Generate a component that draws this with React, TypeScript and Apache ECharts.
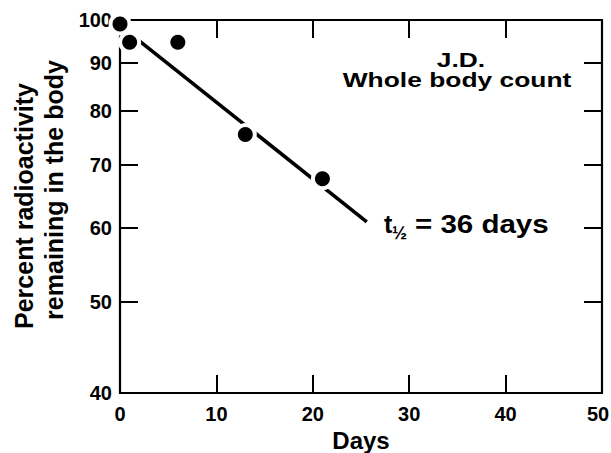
import React, { useEffect, useRef } from "react";
import * as echarts from "echarts";

// ---- data ----
const days = [0, 1, 6, 13, 21];
const percentRemaining = [99, 94.7, 94.7, 75.5, 67.7];
const fitDays = [2, 25.6];
const fitPercent = [95, 60.9];
const xMin = 0;
const xMax = 50;
const xInterval = 10;
const yTicks = [40, 50, 60, 70, 80, 90, 100];
const yMin = 40;
const yMax = 100;
const xName = "Days";
const yName1 = "Percent radioactivity";
const yName2 = "remaining in the body";
const note1 = "J.D.";
const note2 = "Whole body count";
const halfLifeT = "t";
const halfLifeSub = "½";
const halfLifeRest = "= 36 days";

const FONT = '"Liberation Sans", Arial, Helvetica, sans-serif';
const INK = "#000000";
const GRID = { left: 120, top: 20, width: 482, height: 373 };

const lg = (v: number) => Math.log10(v);

export default function App() {
  const ref = useRef<HTMLDivElement>(null);
  useEffect(() => {
    if (!ref.current) return;
    const chart = echarts.init(ref.current, null, { renderer: "svg" });
    const pts = days.map((d, i) => [d, lg(percentRemaining[i])]);
    const fit = fitDays.map((d, i) => [d, lg(fitPercent[i])]);
    const yTickVals = yTicks.map(lg);
    const axisLine = () => ({ show: true, onZero: false, lineStyle: { color: INK, width: 2.2 } });
    const tick = () => ({ show: true, inside: true, length: 18, lineStyle: { color: INK, width: 2 } });
    const labelStyle = () => ({ color: INK, fontFamily: FONT, fontWeight: "bold" as const, fontSize: 20 });
    const textStyle = (size: number) => ({
      fill: INK,
      fontFamily: FONT,
      fontWeight: "bold",
      fontSize: size,
    });
    chart.setOption({
      animation: false,
      grid: {
        ...GRID,
        outerBoundsMode: "none",
        show: true,
        borderColor: INK,
        borderWidth: 2,
      },
      xAxis: [
        {
          type: "value",
          position: "bottom",
          min: xMin,
          max: xMax,
          interval: xInterval,
          axisLine: axisLine(),
          axisTick: tick(),
          splitLine: { show: false },
          axisLabel: {
            ...labelStyle(),
            margin: 11,
            formatter: (v: number) => (v === xMax ? `{last|${v}}` : `${v}`),
            rich: {
              last: { ...labelStyle(), padding: [0, 8, 0, 0] },
            },
          },
          name: xName,
          nameLocation: "middle",
          nameGap: 25,
          nameTextStyle: { color: INK, fontFamily: FONT, fontWeight: "bold", fontSize: 24 },
        },
        {
          type: "value",
          position: "top",
          min: xMin,
          max: xMax,
          interval: xInterval,
          axisLine: axisLine(),
          axisTick: tick(),
          splitLine: { show: false },
          axisLabel: { show: false },
        },
      ],
      yAxis: [
        {
          type: "value",
          position: "left",
          min: lg(yMin),
          max: lg(yMax),
          axisLine: axisLine(),
          axisTick: { ...tick(), customValues: yTickVals },
          splitLine: { show: false },
          axisLabel: {
            ...labelStyle(),
            margin: 8,
            customValues: yTickVals,
            formatter: (v: number) => String(Math.round(Math.pow(10, v))),
          },
        },
        {
          type: "value",
          position: "right",
          min: lg(yMin),
          max: lg(yMax),
          axisLine: axisLine(),
          axisTick: { ...tick(), customValues: yTickVals },
          splitLine: { show: false },
          axisLabel: { show: false, customValues: yTickVals },
        },
      ],
      series: [
        {
          type: "line",
          data: fit,
          showSymbol: false,
          symbol: "none",
          lineStyle: { color: INK, width: 3.6 },
          z: 3,
          clip: false,
        },
        {
          type: "scatter",
          data: pts,
          symbol: "circle",
          symbolSize: 23,
          itemStyle: { color: "#ffffff", opacity: 1 },
          emphasis: { disabled: true },
          z: 4,
          clip: false,
        },
        {
          type: "scatter",
          data: pts,
          symbol: "circle",
          symbolSize: 15,
          itemStyle: { color: INK, opacity: 1 },
          emphasis: { disabled: true },
          z: 5,
          clip: false,
        },
      ],
      graphic: [
        {
          type: "rect",
          z: 1,
          silent: true,
          shape: { x: GRID.left, y: GRID.top, width: GRID.width, height: GRID.height },
          style: { fill: "none", stroke: INK, lineWidth: 2 },
        },
        {
          type: "text",
          x: 461,
          y: 60,
          scaleX: 1.32,
          style: { ...textStyle(20), text: note1, align: "center", verticalAlign: "middle", textAlign: "center", textVerticalAlign: "middle" },
        },
        {
          type: "text",
          x: 457,
          y: 80,
          scaleX: 1.32,
          style: { ...textStyle(20), text: note2, align: "center", verticalAlign: "middle", textAlign: "center", textVerticalAlign: "middle" },
        },
        {
          type: "text",
          x: 24,
          y: 206,
          rotation: Math.PI / 2,
          style: { ...textStyle(25), text: yName1, align: "center", verticalAlign: "middle", textAlign: "center", textVerticalAlign: "middle" },
        },
        {
          type: "text",
          x: 54,
          y: 190,
          rotation: Math.PI / 2,
          style: { ...textStyle(25), text: yName2, align: "center", verticalAlign: "middle", textAlign: "center", textVerticalAlign: "middle" },
        },
        {
          type: "text",
          x: 384,
          y: 224,
          style: { ...textStyle(25), text: halfLifeT, align: "left", verticalAlign: "middle", textAlign: "left", textVerticalAlign: "middle" },
        },
        {
          type: "text",
          x: 392,
          y: 233,
          style: { ...textStyle(18), text: halfLifeSub, align: "left", verticalAlign: "middle", textAlign: "left", textVerticalAlign: "middle" },
        },
        {
          type: "text",
          x: 415,
          y: 224,
          scaleX: 1.18,
          style: { ...textStyle(25), text: halfLifeRest, align: "left", verticalAlign: "middle", textAlign: "left", textVerticalAlign: "middle" },
        },
      ],
    });
    return () => chart.dispose();
  }, []);
  return (
    <div
      ref={ref}
      style={{ position: "absolute", left: 0, top: 0, width: 611, height: 453, background: "#fff" }}
    />
  );
}
